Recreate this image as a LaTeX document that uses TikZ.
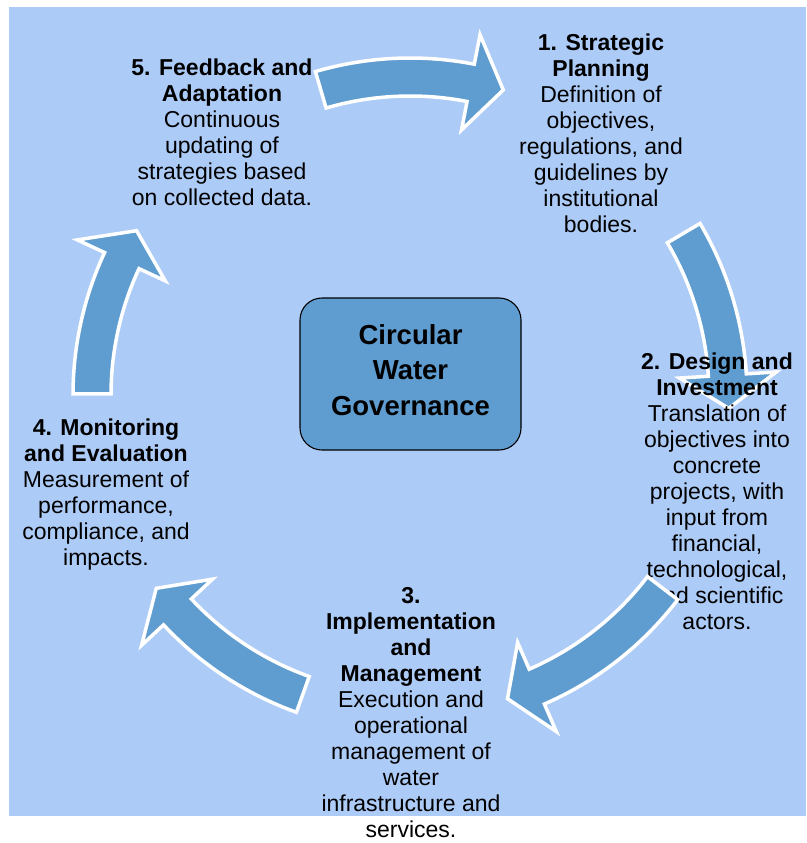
\documentclass[tikz,border=0pt]{standalone}
\usepackage{fontspec}
\setmainfont{Liberation Sans}
\definecolor{sky}{RGB}{173,203,247}
\definecolor{pipe}{RGB}{95,157,208}

\begin{document}
\begin{tikzpicture}[x=1pt,y=-1pt,
    blurb/.style={align=center,inner sep=0pt,font=\fontsize{23}{26}\selectfont},
    hubbox/.style={draw,line width=1.1pt,fill=pipe,rounded corners=22pt,
      minimum width=221pt,minimum height=152pt},
    hubtext/.style={align=center,inner sep=0pt,
      font=\bfseries\fontsize{27.5}{35.5}\selectfont},
    ringarrow/.style={fill=pipe,draw=white,line width=3.5pt,line join=miter}]
  \useasboundingbox (0,0) rectangle (806,843);
  \fill[sky] (9,7) rectangle (806,816);
  % one block arrow on the ring: tail, head base, tip (angles)
  \def\ringarrow#1#2#3{%
    \filldraw[ringarrow] (#1:299) arc[start angle=#1,end angle=#2,radius=299]
      -- (#2:270) -- (#3:319) -- (#2:367) -- (#2:337)
      arc[start angle=#2,end angle=#1,radius=337] -- cycle;}
  \path (410.5,374) node[hubbox] (hub) {};
  \path (hub.center) ++(0,-4) node[hubtext] (title) {Circular\\Water\\Governance};
  \begin{scope}[shift={(410,395)}]
    \ringarrow{-106.3}{-79}{-73}
    \ringarrow{-30.6}{-3.6}{2.4}
    \ringarrow{109.7}{137}{142.7}
    \ringarrow{180.2}{205}{211}
  \end{scope}
  \path (601,133.1) node[blurb] (plan)
    {\textbf{1. Strategic}\\\textbf{Planning}\\Definition of\\objectives,\\regulations, and\\guidelines by\\institutional\\bodies.};
  \path (717,491.1) node[blurb] (invest)
    {\textbf{2. Design and}\\\textbf{Investment}\\Translation of\\objectives into\\concrete\\projects, with\\input from\\financial,\\technological,\\and scientific\\actors.};
  \path (411,712.9) node[blurb] (manage)
    {\textbf{3.}\\\textbf{Implementation}\\\textbf{and}\\\textbf{Management}\\Execution and\\operational\\management of\\water\\infrastructure and\\services.};
  \path (106,494.5) node[blurb] (monitor)
    {\textbf{4. Monitoring}\\\textbf{and Evaluation}\\Measurement of\\performance,\\compliance, and\\impacts.};
  \path (222,132.6) node[blurb] (adapt)
    {\textbf{5. Feedback and}\\\textbf{Adaptation}\\Continuous\\updating of\\strategies based\\on collected data.};
  % this one lies over the text of step 2
  \begin{scope}[shift={(410,395)}]
    \ringarrow{37.4}{66.5}{72.2}
  \end{scope}
\end{tikzpicture}
\end{document}
